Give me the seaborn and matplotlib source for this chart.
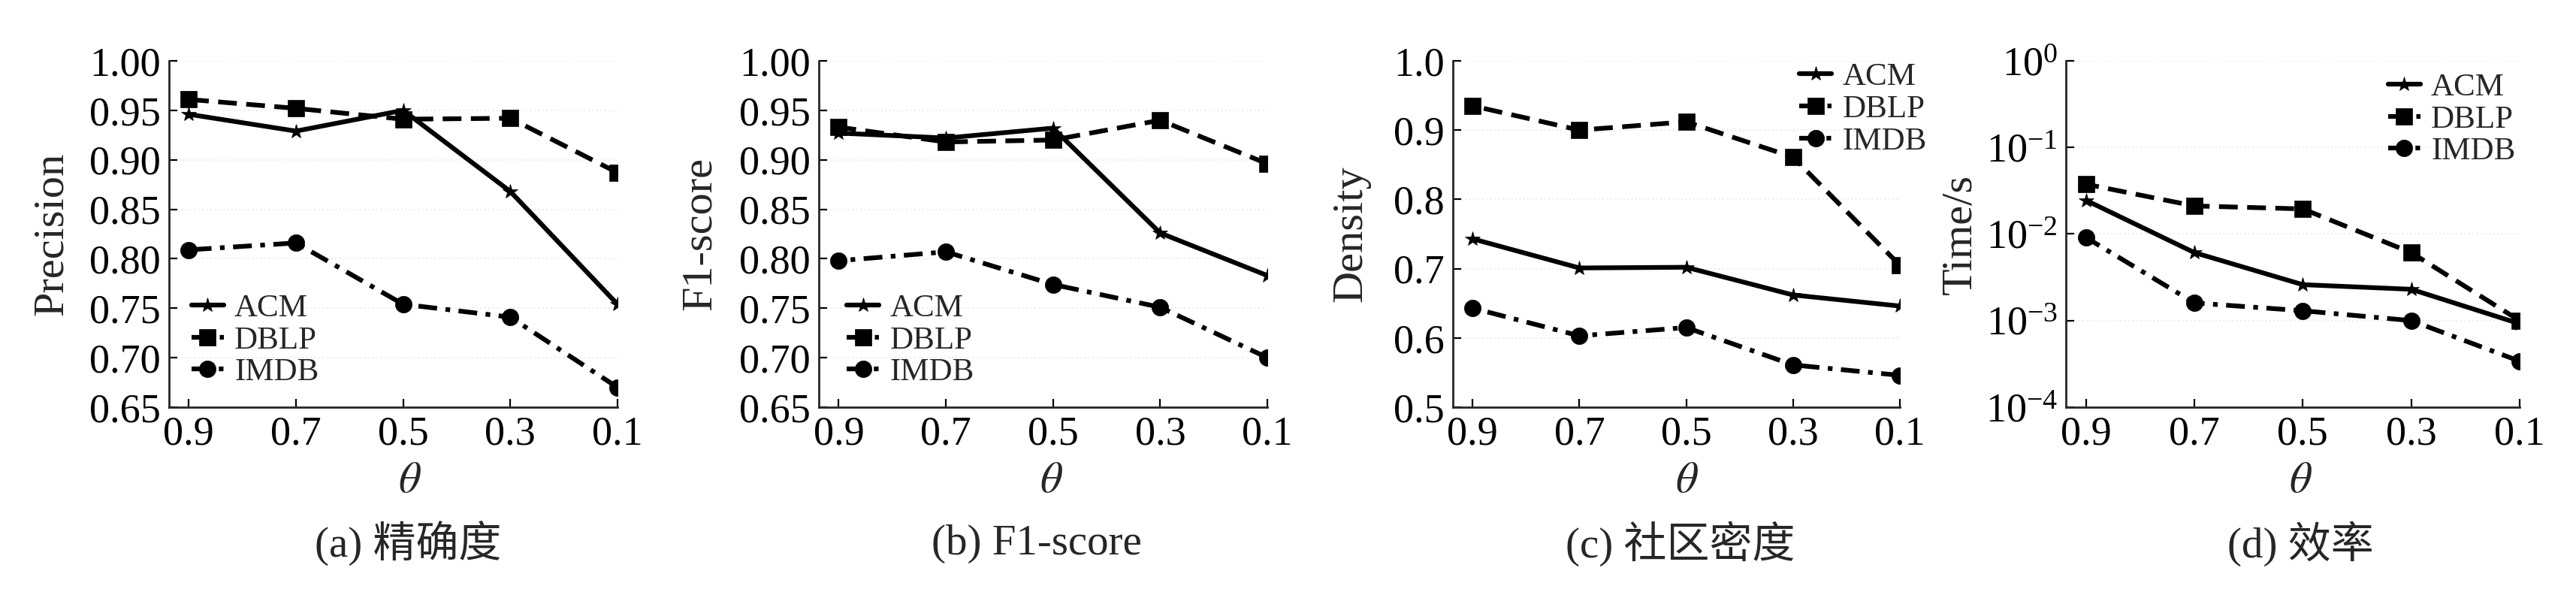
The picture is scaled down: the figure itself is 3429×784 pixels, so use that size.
import numpy as np
import pandas as pd
import matplotlib
matplotlib.use("Agg")
import matplotlib.pyplot as plt
import matplotlib.ticker as mticker
import seaborn as sns

# x values (theta), shown from 0.9 down to 0.1
theta = [0.9, 0.7, 0.5, 0.3, 0.1]
datasets = ["ACM", "DBLP", "IMDB"]

precision_acm = [0.946, 0.929, 0.950, 0.868, 0.754]
precision_dblp = [0.961, 0.952, 0.941, 0.942, 0.887]
precision_imdb = [0.809, 0.816, 0.754, 0.741, 0.670]

f1_acm = [0.927, 0.922, 0.932, 0.826, 0.783]
f1_dblp = [0.933, 0.918, 0.920, 0.940, 0.896]
f1_imdb = [0.798, 0.807, 0.774, 0.751, 0.700]

density_acm = [0.743, 0.701, 0.702, 0.662, 0.646]
density_dblp = [0.935, 0.900, 0.912, 0.861, 0.705]
density_imdb = [0.643, 0.603, 0.615, 0.561, 0.546]

time_acm = [0.0245, 0.0061, 0.0026, 0.0023, 0.00092]
time_dblp = [0.0376, 0.0211, 0.0195, 0.0061, 0.0010]
time_imdb = [0.0091, 0.0016, 0.0013, 0.0010, 0.00034]

ylabels = ["Precision", "F1-score", "Density", "Time/s"]
captions = ["(a) 精确度", "(b) F1-score", "(c) 社区密度", "(d) 效率"]


def long_frame(acm, dblp, imdb):
    rows = []
    for name, vals in zip(datasets, [acm, dblp, imdb]):
        for t, v in zip(theta, vals):
            rows.append({"theta": t, "value": v, "dataset": name})
    return pd.DataFrame(rows)


frames = [
    long_frame(precision_acm, precision_dblp, precision_imdb),
    long_frame(f1_acm, f1_dblp, f1_imdb),
    long_frame(density_acm, density_dblp, density_imdb),
    long_frame(time_acm, time_dblp, time_imdb),
]

sns.set_style("ticks")
plt.rcParams["font.family"] = ["Liberation Serif", "Noto Sans CJK SC"]
plt.rcParams["mathtext.fontset"] = "stix"
plt.rcParams["axes.linewidth"] = 2.0

fig = plt.figure(figsize=(34.29, 7.84), dpi=100)

# axes boxes in figure fraction
lefts = [0.0656, 0.3179, 0.5640, 0.8020]
widths = [0.1741, 0.1741, 0.1735, 0.1761]
bottom, height = 0.3087, 0.5880

ylabel_x = [-0.218, -0.221, -0.185, -0.19]
theta_x = [0.537, 0.519, 0.524, 0.517]
caption_x = [0.534, 0.485, 0.509, 0.518]
legend_loc = ["lower left", "lower left", "upper left", "upper left"]
legend_anchor = [(0.05, 0.058), (0.062, 0.058), (0.775, 0.995), (0.71, 0.965)]

markers = {"ACM": "*", "DBLP": "s", "IMDB": "o"}
dashes = {"ACM": "", "DBLP": (4, 2), "IMDB": (4, 1.8, 1, 1.8)}
msize = {"*": 15, "s": 16, "o": 16}
lw = 4.5

for i, df in enumerate(frames):
    ax = fig.add_axes([lefts[i], bottom, widths[i], height])
    sns.lineplot(data=df, x="theta", y="value", style="dataset",
                 markers=markers, dashes=dashes, color="black",
                 linewidth=lw, markeredgecolor="black", markeredgewidth=0.5,
                 ax=ax, legend="brief")
    for ln in ax.lines:
        ln.set_markersize(msize.get(ln.get_marker(), 15))
        ln.set_dash_capstyle("butt")

    ax.set_xlim(0.937, 0.1)
    ax.set_xticks(theta)
    ax.set_xticklabels([f"{t:.1f}" for t in theta])

    if i < 2:
        ax.set_ylim(0.65, 1.0)
        ax.set_yticks(np.arange(0.65, 1.001, 0.05))
        ax.yaxis.set_major_formatter(mticker.FormatStrFormatter("%.2f"))
    elif i == 2:
        ax.set_ylim(0.5, 1.0)
        ax.set_yticks(np.arange(0.5, 1.001, 0.1))
        ax.yaxis.set_major_formatter(mticker.FormatStrFormatter("%.1f"))
    else:
        ax.set_yscale("log")
        ax.set_ylim(1e-4, 1)
        ax.set_yticks([1e-4, 1e-3, 1e-2, 1e-1, 1])
        ax.yaxis.set_minor_locator(mticker.NullLocator())
        ax.yaxis.set_major_formatter(mticker.FuncFormatter(
            lambda v, p: r"$\mathregular{10^{%d}}$" % int(round(np.log10(v)))))

    sns.despine(ax=ax)
    ax.yaxis.grid(True, color="#ededed", linestyle=":", linewidth=1.5)
    ax.tick_params(direction="in", length=8, width=1.6, labelsize=39,
                   colors="black", pad=8)

    ax.set_ylabel(ylabels[i], fontsize=42)
    ax.yaxis.set_label_coords(ylabel_x[i], 0.5)
    ax.set_xlabel(r"$\theta$", fontsize=42)
    ax.xaxis.label.set_verticalalignment("center")
    ax.xaxis.set_label_coords(theta_x[i], -0.215)

    ax.text(caption_x[i], -0.395, captions[i], transform=ax.transAxes,
            ha="center", va="center", fontsize=41)

    handles, labels = ax.get_legend_handles_labels()
    for h in handles:
        h.set_color("black")
        h.set_linewidth(lw)
        h.set_markersize(msize.get(h.get_marker(), 15))
        h.set_markeredgecolor("black")
    ax.legend(handles, labels, loc=legend_loc[i], bbox_to_anchor=legend_anchor[i],
              frameon=False, fontsize=31, handlelength=1.0, handletextpad=0.33,
              labelspacing=0.08, borderpad=0.0, borderaxespad=0.0)

fig.savefig("out.png", dpi=100)
